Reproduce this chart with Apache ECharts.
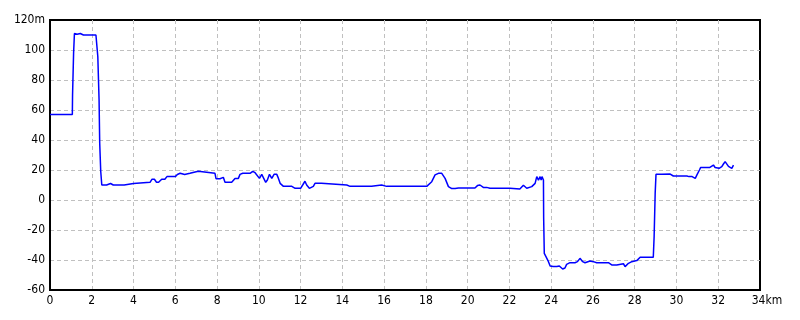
<!DOCTYPE html>
<html>
<head>
<meta charset="utf-8">
<script src="https://cdn.jsdelivr.net/npm/echarts@6/dist/echarts.min.js"></script>
<style>html,body{margin:0;padding:0;background:#fff}#c{width:800px;height:320px}</style>
</head>
<body>
<div id="c"></div>
<script>
const distKm = [0,1.07,1.08,1.12,1.13,1.16,1.17,1.25,1.3,1.45,1.6,2.2,2.27,2.29,2.33,2.35,2.38,2.43,2.48,2.55,2.71,2.9,3.03,3.55,3.6,4.0,4.07,4.79,4.88,5.0,5.1,5.2,5.35,5.5,5.6,6.0,6.1,6.23,6.45,6.5,6.7,6.79,7.1,7.18,7.9,7.95,8.14,8.17,8.3,8.38,8.7,8.78,8.86,9.02,9.1,9.18,9.23,9.58,9.71,9.82,9.9,10.03,10.14,10.22,10.33,10.41,10.51,10.62,10.73,10.86,10.94,11.02,11.18,11.58,11.66,11.74,12.0,12.1,12.21,12.29,12.42,12.5,12.61,12.69,13.0,13.09,14.21,14.37,15.0,15.08,15.24,15.4,15.48,15.88,15.96,16.12,16.92,17.0,17.08,18.04,18.12,18.28,18.44,18.6,18.76,18.92,19.08,19.24,19.4,19.56,19.72,19.8,19.96,20.35,20.47,20.59,20.75,20.91,21.07,22.03,22.11,22.5,22.67,22.83,23.07,23.23,23.31,23.39,23.47,23.52,23.56,23.63,23.64,23.67,23.75,23.87,23.95,24.1,24.27,24.39,24.55,24.66,24.74,24.9,25.14,25.26,25.38,25.51,25.62,25.86,26.02,26.18,26.74,26.9,27.14,27.22,27.46,27.54,27.7,27.86,28.1,28.26,28.89,28.93,28.98,29.02,29.3,29.7,29.85,30.5,30.6,30.75,30.81,30.9,30.98,31.1,31.16,31.6,31.69,31.77,31.85,31.93,32.04,32.17,32.25,32.33,32.41,32.49,32.57,32.65,32.73];
const elevM = [57,57,70,70,98,98,111,111,110.5,111,110,110,111,95.5,95.5,66.7,38,19,10,9.3,10,11,10,10,11,11,11.8,11.8,13.8,13.8,11.8,11.8,13.8,13.8,15.6,15.6,17,17.8,17,17.8,17.8,19.1,19.1,17.8,17.8,14.2,14.2,15.1,15.1,11.8,11.8,12.5,14.4,14.4,17.1,17.1,17.8,17.8,19.1,18.2,17.1,14.4,17.1,16.7,11.8,13.3,17.1,14.4,17.1,17.1,14.4,11.1,9.1,9.1,8.4,7.8,7.8,10,12.5,10,7.8,9.1,9.1,11.1,11.1,10,10,9.1,9.1,10,9.1,9.1,10,10,10.7,9.1,9.1,8.4,9.1,9.1,9.8,12.2,16.7,17.8,17.8,14.4,8.9,7.6,7.6,8.0,8.0,7.3,8.0,8.0,9.6,10,8.4,8.4,7.8,7.8,7.3,7.3,9.8,7.8,8.9,11.1,15.6,13.3,15.6,13.3,15.6,13.3,-12,-35.6,-37.8,-41.1,-44,-44.4,-44.4,-44,-46,-45.3,-42.9,-41.8,-41.8,-41.1,-38.9,-41.1,-41.8,-40.7,-41.1,-41.8,-41.8,-43.3,-43.3,-42.5,-42.5,-44.4,-42.2,-41.1,-40.4,-38.2,-38.2,-24.4,4.4,17.1,17.1,17.3,16,16,15.6,15.6,14.4,14.4,16.7,20,21.7,21.7,22.4,23.3,21.7,20.4,21.1,22.2,24,25.6,25,22.4,21.1,21.1,23.3];
const xTicks = [0,2,4,6,8,10,12,14,16,18,20,22,24,26,28,30,32,34];
const yTicks = [-60,-40,-20,0,20,40,60,80,100,120];

const pts = distKm.map((d, i) => [d, elevM[i]]);
const font = '"DejaVu Sans Condensed",sans-serif';
const chart = echarts.init(document.getElementById('c'), null, {renderer: 'canvas'});
chart.setOption({
  backgroundColor: '#ffffff',
  animation: false,
  grid: {left: 50, right: 40, top: 20, bottom: 30, show: true, borderColor: '#000', borderWidth: 2, backgroundColor: 'transparent'},
  xAxis: {
    type: 'value', min: xTicks[0], max: xTicks[xTicks.length - 1], interval: 2,
    axisLine: {show: true, onZero: false, lineStyle: {color: '#000', width: 2}},
    axisTick: {show: false},
    axisLabel: {
      color: '#000', fontSize: 12, fontFamily: font, margin: 5,
      formatter: v => v === 34 ? '{n|34}{u|km}' : String(v),
      rich: {
        n: {fontSize: 12, fontFamily: font, color: '#000', padding: [0, 0, 0, 14]},
        u: {fontSize: 12, fontFamily: font, color: '#000'}
      }
    },
    splitLine: {show: true, showMinLine: false, showMaxLine: false, lineStyle: {color: '#c0c0c0', type: [4, 3], width: 1}}
  },
  yAxis: {
    type: 'value', min: yTicks[0], max: yTicks[yTicks.length - 1], interval: 20,
    axisLine: {show: true, onZero: false, lineStyle: {color: '#000', width: 2}},
    axisTick: {show: false},
    axisLabel: {
      color: '#000', fontSize: 12, fontFamily: font, margin: 5,
      formatter: v => v === 120 ? '120m' : String(v)
    },
    splitLine: {show: true, showMinLine: false, showMaxLine: false, lineStyle: {color: '#c0c0c0', type: [4, 3], width: 1}}
  },
  series: [{
    type: 'line', data: pts, showSymbol: false, symbol: 'none',
    lineStyle: {color: '#0000ff', width: 1.5}, z: 3
  }]
});
</script>
</body>
</html>
